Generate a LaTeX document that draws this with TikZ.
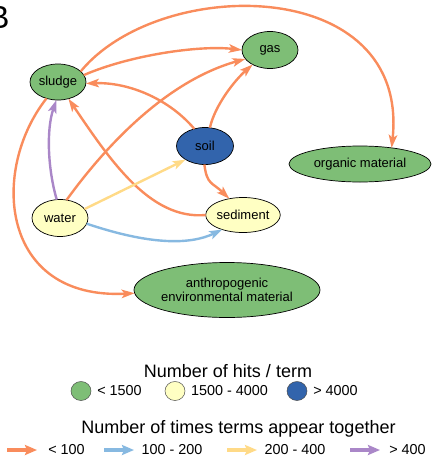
\documentclass[tikz,border=0pt]{standalone}
\usepackage{fontspec}
\setmainfont{Liberation Sans}
\usetikzlibrary{arrows.meta,shapes.geometric}
\definecolor{eor}{RGB}{249,140,92}
\definecolor{ebl}{RGB}{135,185,225}
\definecolor{eye}{RGB}{255,218,135}
\definecolor{epu}{RGB}{170,135,200}
\definecolor{tgreen}{RGB}{126,190,118}
\definecolor{tyellow}{RGB}{255,255,195}
\definecolor{tblue}{RGB}{50,100,172}
\tikzset{
  term/.style={ellipse, draw=black, line width=0.7pt, inner sep=0pt, outer sep=0pt, font=\fontsize{13}{15}\selectfont},
  gterm/.style={term, fill=tgreen},
  yterm/.style={term, fill=tyellow},
  bterm/.style={term, fill=tblue},
  edge/.style={line width=2.4pt, -{Stealth[length=13pt,width=8.5pt,inset=3pt]}},
  oedge/.style={edge, draw=eor},
  bedge/.style={edge, draw=ebl},
  yedge/.style={edge, draw=eye},
  pedge/.style={edge, draw=epu},
  ledge/.style={line width=3.5pt, -{Stealth[length=12pt,width=10pt,inset=2pt]}},
  legdot/.style={ellipse, draw=black!70, line width=0.5pt, minimum width=20pt, minimum height=19pt, inner sep=0pt},
  legtxt/.style={inner sep=0pt, font=\fontsize{14.4}{16}\selectfont},
  legtitle/.style={inner sep=0pt, font=\fontsize{18}{20}\selectfont}
}
\begin{document}
\begin{tikzpicture}[x=1pt,y=-1pt]
\useasboundingbox (0,0) rectangle (432,459);
\node[anchor=base west, inner sep=0pt, font=\fontsize{32}{34}\selectfont] (lab) at (-12,28) {B};
% terms
\node[gterm, minimum width=56pt, minimum height=36pt] (sludge) at (58,82) {sludge};
\node[gterm, minimum width=56pt, minimum height=37pt] (gas) at (270,50) {gas};
\node[bterm, minimum width=57pt, minimum height=37pt] (soil) at (205,146) {soil};
\node[gterm, minimum width=142pt, minimum height=36pt] (organic) at (360,164) {organic material};
\node[yterm, minimum width=56pt, minimum height=37pt] (water) at (60,218) {water};
\node[yterm, minimum width=71pt, minimum height=35pt] (sediment) at (243,215) {sediment};
\node[gterm, minimum width=185pt, minimum height=55pt, align=center] (anthro) at (227,290) {anthropogenic\\[-1pt]environmental material};
% connectors
\draw[oedge] (sludge.25) .. controls (160,-25) and (410,-25) .. (organic.27);
\draw[oedge] (sludge.15) .. controls (130,55) and (200,45) .. (gas.180);
\draw[oedge] (soil.122) .. controls (170,100) and (130,82) .. (sludge.-3);
\draw[oedge] (sediment.180) .. controls (150,220) and (110,160) .. (sludge.-58);
\draw[pedge] (water.100) .. controls (48,170) and (46,130) .. (sludge.-95);
\draw[oedge] (water.70) .. controls (110,140) and (170,80) .. (gas.200);
\draw[oedge] (sludge.235) .. controls (-10,170) and (0,300) .. (anthro.182);
\draw[yedge] (water.20) -- (soil.215);
\draw[bedge] (water.-12) .. controls (150,245) and (190,245) .. (sediment.215);
\draw[oedge] (soil.75) .. controls (215,105) and (235,80) .. (gas.220);
\draw[oedge] (soil.-92) .. controls (207,185) and (212,182) .. (sediment.130);
% legend: terms
\node[legtitle] (t1) at (228,371) {Number of hits / term};
\node[legdot, fill=tgreen] (d1) at (81,391) {};
\node[legtxt] (l1) at (119.5,391) {< 1500};
\node[legdot, fill=tyellow] (d2) at (175,391) {};
\node[legtxt] (l2) at (229.5,391) {1500 - 4000};
\node[legdot, fill=tblue] (d3) at (297,391) {};
\node[legtxt] (l3) at (335.5,391) {> 4000};
% legend: co-occurrence
\node[legtitle] (t2) at (238.5,429) {Number of times terms appear together};
\coordinate (a1s) at (7,450); \coordinate (a1e) at (37,450);
\coordinate (a2s) at (104,450); \coordinate (a2e) at (134,450);
\coordinate (a3s) at (227,450); \coordinate (a3e) at (257,450);
\coordinate (a4s) at (350,450); \coordinate (a4e) at (380,450);
\draw[ledge, draw=eor] (a1s) -- (a1e);
\draw[ledge, draw=ebl] (a2s) -- (a2e);
\draw[ledge, draw=eye] (a3s) -- (a3e);
\draw[ledge, draw=epu] (a4s) -- (a4e);
\node[legtxt] (m1) at (66.5,450) {< 100};
\node[legtxt] (m2) at (172,450) {100 - 200};
\node[legtxt] (m3) at (295,450) {200 - 400};
\node[legtxt] (m4) at (407.5,450) {> 400};
\end{tikzpicture}
\end{document}
